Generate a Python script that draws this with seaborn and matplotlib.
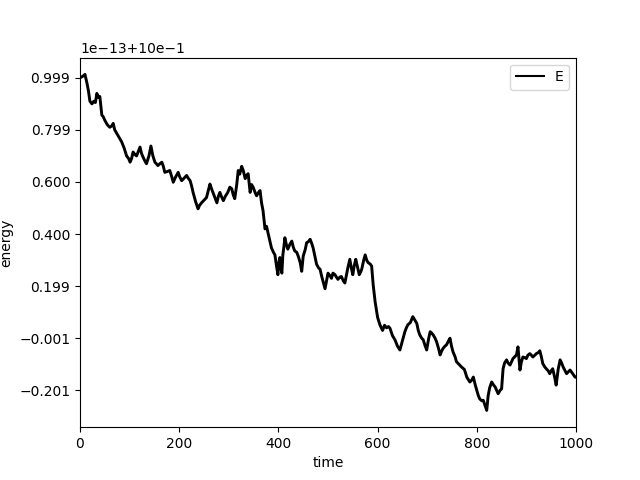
import numpy as np
import pandas as pd
import matplotlib
matplotlib.use('Agg')
import matplotlib.pyplot as plt
from matplotlib.ticker import FixedLocator, FixedFormatter
import seaborn as sns

# time steps and energy deviation (in units of 1e-13 around 1.0)
time = [0, 5, 10, 14, 17, 20, 24, 28, 31, 34, 37, 40, 44, 47, 50, 55, 60, 64, 67, 70,
        74, 79, 84, 89, 94, 98, 101, 104, 107, 111, 114, 118, 121, 124, 127, 131, 134, 139, 143, 147,
        151, 154, 157, 161, 165, 168, 171, 176, 181, 185, 188, 193, 198, 201, 205, 210, 215, 218, 222, 225,
        228, 233, 238, 241, 245, 250, 255, 259, 262, 265, 268, 272, 276, 279, 282, 285, 289, 293, 298, 302,
        306, 309, 312, 316, 319, 322, 326, 329, 333, 336, 339, 343, 346, 349, 353, 356, 360, 363, 366, 369,
        373, 376, 379, 383, 386, 390, 393, 396, 399, 401, 403, 405, 407, 409, 411, 413, 416, 419, 423, 427,
        430, 433, 437, 440, 444, 447, 450, 454, 457, 460, 464, 467, 470, 474, 477, 481, 484, 487, 490, 494,
        497, 500, 504, 507, 510, 514, 517, 520, 524, 527, 531, 534, 537, 540, 544, 547, 550, 553, 556, 560,
        563, 566, 568, 572, 575, 578, 581, 585, 588, 591, 595, 600, 605, 610, 614, 618, 622, 625, 630, 635,
        640, 645, 650, 655, 658, 661, 666, 671, 675, 679, 682, 685, 689, 692, 696, 699, 703, 706, 709, 712,
        716, 719, 723, 726, 729, 732, 736, 739, 743, 746, 749, 752, 756, 759, 764, 769, 775, 780, 786, 790,
        793, 797, 800, 803, 806, 810, 813, 817, 820, 823, 826, 830, 834, 837, 840, 843, 847, 850, 853, 856,
        860, 863, 867, 870, 873, 877, 880, 883, 887, 890, 893, 897, 900, 903, 907, 910, 913, 917, 920, 924,
        927, 930, 933, 937, 940, 944, 947, 950, 953, 957, 960, 964, 968, 971, 974, 978, 981, 984, 988, 993,
        998, 1000]
energy_dev = [1.000, 1.005, 1.013, 0.98, 0.95, 0.91, 0.90, 0.91, 0.905, 0.94, 0.925, 0.928, 0.857, 0.85, 0.837, 0.82, 0.81, 0.815, 0.825, 0.80,
              0.787, 0.77, 0.754, 0.73, 0.70, 0.69, 0.676, 0.69, 0.715, 0.705, 0.70, 0.72, 0.734, 0.71, 0.696, 0.68, 0.67, 0.70, 0.738, 0.70,
              0.676, 0.67, 0.663, 0.67, 0.676, 0.66, 0.637, 0.64, 0.644, 0.62, 0.599, 0.62, 0.637, 0.62, 0.605, 0.615, 0.625, 0.615, 0.605, 0.585,
              0.56, 0.525, 0.497, 0.51, 0.52, 0.53, 0.54, 0.57, 0.592, 0.575, 0.56, 0.54, 0.52, 0.545, 0.56, 0.545, 0.528, 0.545, 0.56, 0.58,
              0.574, 0.55, 0.536, 0.59, 0.644, 0.63, 0.66, 0.645, 0.613, 0.625, 0.632, 0.56, 0.59, 0.58, 0.56, 0.547, 0.56, 0.567, 0.52, 0.49,
              0.42, 0.43, 0.405, 0.37, 0.347, 0.33, 0.32, 0.28, 0.244, 0.29, 0.31, 0.27, 0.25, 0.32, 0.35, 0.386, 0.36, 0.342, 0.36, 0.373,
              0.35, 0.335, 0.33, 0.315, 0.29, 0.257, 0.315, 0.34, 0.367, 0.37, 0.38, 0.365, 0.347, 0.31, 0.284, 0.27, 0.265, 0.24, 0.218, 0.19,
              0.22, 0.25, 0.24, 0.23, 0.25, 0.244, 0.235, 0.226, 0.235, 0.237, 0.22, 0.212, 0.24, 0.27, 0.303, 0.27, 0.244, 0.28, 0.303, 0.27,
              0.244, 0.255, 0.265, 0.30, 0.32, 0.30, 0.29, 0.285, 0.277, 0.207, 0.14, 0.08, 0.05, 0.03, 0.05, 0.04, 0.045, 0.038, 0.01, -0.006,
              -0.03, -0.045, -0.01, 0.025, 0.04, 0.052, 0.06, 0.083, 0.07, 0.057, 0.03, 0.013, 0.0, -0.006, -0.03, -0.045, 0.0, 0.025, 0.02, 0.013,
              0.0, -0.014, -0.04, -0.064, -0.05, -0.039, -0.03, -0.025, -0.01, 0.0, -0.03, -0.052, -0.07, -0.09, -0.1, -0.11, -0.12, -0.15, -0.168, -0.16,
              -0.149, -0.18, -0.2, -0.22, -0.233, -0.24, -0.238, -0.26, -0.277, -0.219, -0.19, -0.168, -0.18, -0.187, -0.20, -0.213, -0.20, -0.194, -0.117, -0.095,
              -0.083, -0.095, -0.103, -0.09, -0.078, -0.07, -0.064, -0.033, -0.122, -0.09, -0.072, -0.075, -0.078, -0.065, -0.059, -0.065, -0.072, -0.065, -0.059, -0.055,
              -0.048, -0.07, -0.097, -0.11, -0.117, -0.125, -0.136, -0.125, -0.117, -0.15, -0.18, -0.12, -0.083, -0.095, -0.11, -0.125, -0.136, -0.13, -0.122, -0.135,
              -0.149, -0.15]

# tick positions (same units) and the labels as printed in the original
ytick_pos = [1.0, 0.8, 0.6, 0.4, 0.2, 0.0, -0.2]
ytick_labels = ['0.999', '0.799', '0.600', '0.400', '0.199', '\u22120.001', '\u22120.201']
offset_label = '1e\u221213+10e\u22121'

df = pd.DataFrame({'time': time, 'energy': energy_dev})

fig, ax = plt.subplots(figsize=(6.4, 4.8), dpi=100)
sns.lineplot(data=df, x='time', y='energy', color='black', linewidth=2.1, label='E', ax=ax)
ax.set_xlim(0, 1000)
ax.set_xlabel('time'); ax.set_ylabel('energy')

# ticks with the float-rounded labels and the offset string
ax.yaxis.set_major_locator(FixedLocator(ytick_pos))
fmt = FixedFormatter(ytick_labels)
fmt.set_offset_string(offset_label)
ax.yaxis.set_major_formatter(fmt)

leg = ax.legend(loc='upper right')
for h in leg.get_lines():
    h.set_linewidth(1.5)

fig.savefig('out.png', dpi=100)
